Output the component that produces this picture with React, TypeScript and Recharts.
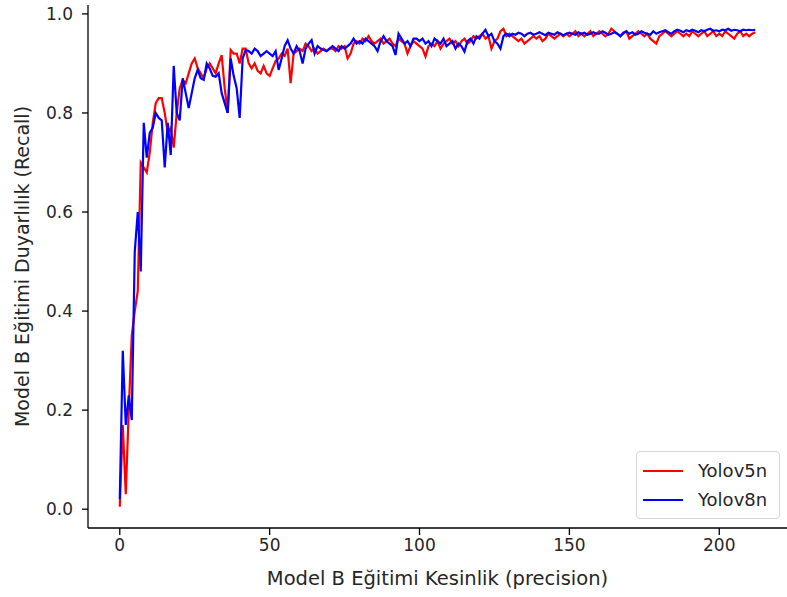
import React from 'react';
import { LineChart, Line, XAxis, YAxis, Legend } from 'recharts';

const yolov5n: number[] = [
  0.005, 0.17, 0.03, 0.20, 0.35, 0.40, 0.44, 0.70, 0.69, 0.68,
  0.72, 0.78, 0.82, 0.83, 0.83, 0.80, 0.76, 0.77, 0.73, 0.80,
  0.85, 0.867, 0.86, 0.88, 0.90, 0.91, 0.89, 0.88, 0.87, 0.89,
  0.90, 0.89, 0.88, 0.90, 0.917, 0.85, 0.80, 0.927, 0.92, 0.92,
  0.90, 0.93, 0.93, 0.90, 0.89, 0.90, 0.885, 0.88, 0.895, 0.88,
  0.875, 0.89, 0.905, 0.91, 0.92, 0.915, 0.93, 0.86, 0.92, 0.925,
  0.93, 0.925, 0.94, 0.935, 0.925, 0.93, 0.92, 0.925, 0.93, 0.925,
  0.93, 0.93, 0.925, 0.935, 0.93, 0.935, 0.91, 0.92, 0.94, 0.945,
  0.94, 0.95, 0.945, 0.955, 0.945, 0.94, 0.945, 0.95, 0.94, 0.945,
  0.95, 0.94, 0.935, 0.95, 0.945, 0.94, 0.92, 0.935, 0.945, 0.94,
  0.935, 0.93, 0.914, 0.935, 0.94, 0.935, 0.945, 0.93, 0.94, 0.945,
  0.95, 0.94, 0.945, 0.935, 0.945, 0.95, 0.94, 0.945, 0.955, 0.95,
  0.955, 0.96, 0.95, 0.955, 0.93, 0.945, 0.95, 0.965, 0.97, 0.955,
  0.96, 0.955, 0.95, 0.945, 0.95, 0.94, 0.945, 0.95, 0.955, 0.95,
  0.955, 0.945, 0.95, 0.96, 0.955, 0.95, 0.955, 0.96, 0.955, 0.96,
  0.955, 0.96, 0.965, 0.955, 0.96, 0.955, 0.96, 0.965, 0.955, 0.96,
  0.965, 0.96, 0.955, 0.96, 0.97, 0.965, 0.96, 0.955, 0.96, 0.965,
  0.95, 0.955, 0.96, 0.965, 0.96, 0.955, 0.96, 0.95, 0.945, 0.94,
  0.955, 0.96, 0.965, 0.96, 0.955, 0.96, 0.965, 0.96, 0.955, 0.96,
  0.955, 0.965, 0.96, 0.955, 0.96, 0.965, 0.955, 0.96, 0.965, 0.955,
  0.96, 0.955, 0.965, 0.96, 0.955, 0.95, 0.96, 0.965, 0.955, 0.96,
  0.955, 0.96, 0.963,
];

const yolov8n: number[] = [
  0.02, 0.32, 0.17, 0.23, 0.18, 0.52, 0.60, 0.48, 0.78, 0.71,
  0.76, 0.77, 0.80, 0.79, 0.785, 0.69, 0.78, 0.715, 0.895, 0.80,
  0.785, 0.87, 0.84, 0.81, 0.84, 0.87, 0.887, 0.87, 0.867, 0.90,
  0.89, 0.875, 0.873, 0.88, 0.84, 0.82, 0.80, 0.91, 0.875, 0.85,
  0.79, 0.91, 0.927, 0.925, 0.92, 0.93, 0.925, 0.915, 0.92, 0.925,
  0.92, 0.915, 0.925, 0.887, 0.91, 0.935, 0.947, 0.93, 0.92, 0.935,
  0.925, 0.90, 0.93, 0.94, 0.947, 0.92, 0.935, 0.93, 0.927, 0.925,
  0.93, 0.935, 0.93, 0.925, 0.935, 0.93, 0.935, 0.94, 0.95, 0.94,
  0.945, 0.94, 0.95, 0.945, 0.94, 0.935, 0.925, 0.945, 0.955, 0.945,
  0.94, 0.935, 0.917, 0.96, 0.95, 0.94, 0.945, 0.935, 0.95, 0.95,
  0.945, 0.95, 0.94, 0.945, 0.935, 0.95, 0.945, 0.94, 0.95, 0.935,
  0.94, 0.945, 0.93, 0.94, 0.935, 0.924, 0.945, 0.95, 0.94, 0.955,
  0.95, 0.96, 0.968, 0.955, 0.96, 0.945, 0.94, 0.93, 0.955, 0.96,
  0.955, 0.96, 0.958, 0.962, 0.96, 0.955, 0.96, 0.962, 0.958, 0.96,
  0.963, 0.96, 0.957, 0.962, 0.96, 0.958, 0.963, 0.96, 0.957, 0.96,
  0.962, 0.96, 0.958, 0.963, 0.96, 0.962, 0.958, 0.96, 0.963, 0.96,
  0.96, 0.965, 0.962, 0.958, 0.96, 0.963, 0.96, 0.955, 0.962, 0.965,
  0.96, 0.963, 0.958, 0.96, 0.965, 0.962, 0.96, 0.958, 0.965, 0.96,
  0.963, 0.965, 0.967, 0.963, 0.96, 0.965, 0.968, 0.966, 0.963, 0.967,
  0.965, 0.968, 0.966, 0.963, 0.967, 0.965, 0.968, 0.97, 0.966, 0.967,
  0.965, 0.968, 0.967, 0.97, 0.966, 0.968, 0.967, 0.965, 0.968, 0.967,
  0.968, 0.967, 0.968,
];

const xTicks: number[] = [0, 50, 100, 150, 200];
const yTicks: number[] = [0, 0.2, 0.4, 0.6, 0.8, 1.0];
const seriesNames = { r: 'Yolov5n', b: 'Yolov8n' };
const xLabel = 'Model B Eğitimi Kesinlik (precision)';
const yLabel = 'Model B Eğitimi Duyarlılık (Recall)';

const data = yolov5n.map((v, i) => ({ x: i, r: v, b: yolov8n[i] }));

const FONT = '"DejaVu Sans", sans-serif';
const TXT = '#262626';

const LegendBox = () => (
  <div
    style={{
      width: 144,
      height: 68,
      border: '1px solid #d6d6d6',
      borderRadius: 4,
      background: 'rgba(255,255,255,0.8)',
      boxSizing: 'border-box',
      fontFamily: FONT,
      fontSize: 18,
      color: TXT,
    }}
  >
    {[
      { name: seriesNames.r, color: '#ff0000' },
      { name: seriesNames.b, color: '#0000ff' },
    ].map((it, k) => (
      <div key={k} style={{ display: 'flex', alignItems: 'center', height: 29, marginTop: k === 0 ? 4 : 0 }}>
        <div style={{ width: 40, height: 2, background: it.color, marginLeft: 6, marginRight: 15 }} />
        <span>{it.name}</span>
      </div>
    ))}
  </div>
);

export default function App() {
  return (
    <div style={{ position: 'absolute', left: 0, top: 0 }}>
      <LineChart
        width={787}
        height={597}
        data={data}
        margin={{ top: 5, right: 0, bottom: 9, left: 0 }}
      >
        <XAxis
          dataKey="x"
          type="number"
          domain={[-10.6, 222.6]}
          allowDataOverflow
          ticks={xTicks}
          tickSize={7}
          tickMargin={4}
          height={60}
          stroke="#000"
          strokeWidth={1.3}
          tick={{ fill: TXT, fontSize: 17, fontFamily: FONT }}
          label={(props: any) => (
            <text x={437.5} y={585} textAnchor="middle" fill={TXT} fontSize={19.5} fontFamily={FONT}>
              {xLabel}
            </text>
          )}
        />
        <YAxis
          type="number"
          domain={[-0.038, 1.018]}
          allowDataOverflow
          ticks={yTicks}
          tickFormatter={(v: number) => v.toFixed(1)}
          width={88}
          tickSize={6}
          tickMargin={9}
          stroke="#000"
          strokeWidth={1.3}
          tick={{ fill: TXT, fontSize: 17, fontFamily: FONT }}
          label={(props: any) => (
            <text
              x={29}
              y={266.5}
              transform="rotate(-90 29 266.5)"
              textAnchor="middle"
              fill={TXT}
              fontSize={19}
              fontFamily={FONT}
            >
              {yLabel}
            </text>
          )}
        />
        <Legend
          layout="vertical"
          align="center"
          verticalAlign="middle"
          content={() => <LegendBox />}
          wrapperStyle={{ left: 636, top: 451, width: 144, height: 68 }}
        />
        <Line
          type="linear"
          dataKey="r"
          name={seriesNames.r}
          stroke="#ff0000"
          strokeWidth={2.2}
          dot={false}
          isAnimationActive={false}
        />
        <Line
          type="linear"
          dataKey="b"
          name={seriesNames.b}
          stroke="#0000ff"
          strokeWidth={2.2}
          dot={false}
          isAnimationActive={false}
        />
      </LineChart>
    </div>
  );
}
